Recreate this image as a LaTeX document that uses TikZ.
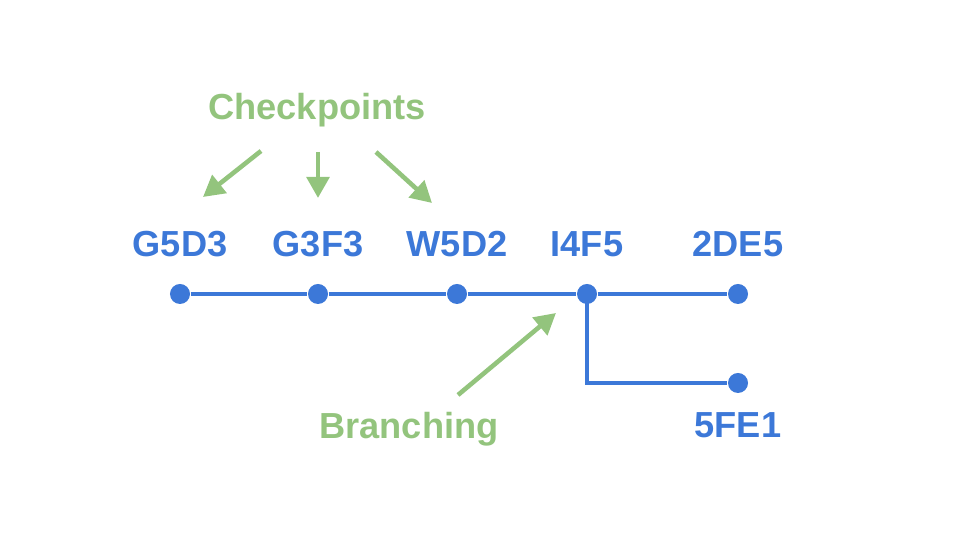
\documentclass[tikz,border=0pt]{standalone}
\usepackage{fontspec}
\setmainfont{Liberation Sans}
\usetikzlibrary{arrows.meta}
\definecolor{commitblue}{RGB}{60,120,216}
\definecolor{notegreen}{RGB}{147,196,125}

\begin{document}
\begin{tikzpicture}[x=0.01cm, y=0.01cm,
    commit/.style={circle, fill=commitblue, inner sep=0pt, minimum size=0.2cm},
    commitlabel/.style={commitblue, font=\fontsize{10.3}{12}\selectfont\bfseries, anchor=base, inner sep=0pt},
    notelabel/.style={notegreen, font=\fontsize{10.3}{12}\selectfont\bfseries, anchor=base, inner sep=0pt},
    history/.style={commitblue, line width=1.05pt},
    pointer/.style={notegreen, line width=1.3pt, -{Triangle[length=6pt, width=6.4pt]}}]
    \useasboundingbox (0,0) rectangle (960,540);

    % Commits on the main line
    \node[commit] (g5d3) at (180,246) {};
    \node[commit] (g3f3) at (318,246) {};
    \node[commit] (w5d2) at (457,246) {};
    \node[commit] (i4f5) at (587,246) {};
    \node[commit] (2de5) at (738,246) {};
    % Commit on the branch
    \node[commit] (5fe1) at (738,157) {};
    \coordinate (bend) at (587,157);

    \draw[history] (g5d3) -- (g3f3) -- (w5d2) -- (i4f5) -- (2de5);
    \draw[history] (i4f5.center) -- (bend) -- (5fe1);

    % Commit names
    \node[commitlabel] (lg5d3) at (180,283) {G5D3};
    \node[commitlabel] (lg3f3) at (318,283) {G3F3};
    \node[commitlabel] (lw5d2) at (457,283) {W5D2};
    \node[commitlabel] (li4f5) at (587,283) {I4F5};
    \node[commitlabel] (l2de5) at (738,283) {2DE5};
    \node[commitlabel] (l5fe1) at (738,102) {5FE1};

    % Notes
    \node[notelabel] (checkpoints) at (317,420) {Checkpoints};
    \node[notelabel] (branching) at (409,101) {Branching};

    \coordinate (c1s) at (261,389);
    \coordinate (c1e) at (203,343);
    \coordinate (c2s) at (318,388);
    \coordinate (c2e) at (318,342);
    \coordinate (c3s) at (376,388);
    \coordinate (c3e) at (432,337);
    \coordinate (bs) at (458,145);
    \coordinate (be) at (556,227);

    \draw[pointer] (c1s) -- (c1e);
    \draw[pointer] (c2s) -- (c2e);
    \draw[pointer] (c3s) -- (c3e);
    \draw[pointer] (bs) -- (be);
\end{tikzpicture}
\end{document}
